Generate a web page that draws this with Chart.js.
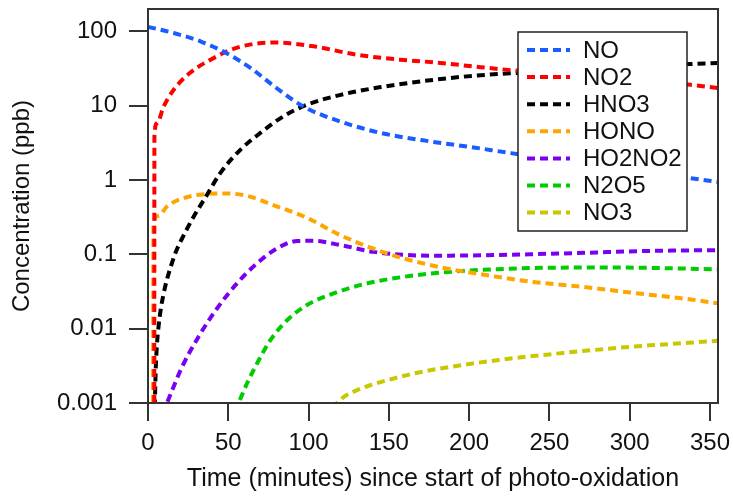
<!DOCTYPE html>
<html>
<head>
<meta charset="utf-8">
<script src="https://cdn.jsdelivr.net/npm/chart.js@4/dist/chart.umd.min.js"></script>
<style>
  html, body { margin: 0; padding: 0; background: #fff; }
  #wrap { width: 733px; height: 498px; position: relative; }
</style>
</head>
<body>
<div id="wrap"><canvas id="c" width="733" height="498"></canvas></div>
<script>
// ---- Data (time in minutes, concentration in ppb) ----
const seriesNames = ['NO', 'NO2', 'HNO3', 'HONO', 'HO2NO2', 'N2O5', 'NO3'];
const seriesColors = ['#1a5cff', '#ff0000', '#000000', '#ffa500', '#7a00f0', '#00cc00', '#c8c800'];

const noT = [0, 16, 33, 48, 64, 80, 97, 120, 145, 176, 200, 226, 250, 275, 300, 325, 338, 355];
const noV = [115, 95, 73, 52, 32, 17.3, 9.7, 6.1, 4.3, 3.3, 2.8, 2.3, 1.94, 1.63, 1.37, 1.15, 1.06, 0.94];

const no2T = [3.9, 4.0, 5.6, 9.7, 16, 26, 39, 55, 78, 103, 130, 157, 180, 203, 228, 250, 275, 300, 338, 355];
const no2V = [0.0003, 4.0, 5.8, 9.7, 16.4, 27.5, 41.6, 60, 71, 63, 48.5, 41.6, 38, 33.7, 29.8, 27.3, 24.7, 22.3, 19.1, 17.3];

const hno3T = [4.11, 4.3, 4.79, 5.54, 6.66, 7.85, 9.53, 11.71, 14.51, 17.81, 20.74, 28.4, 36.7, 45, 57.5, 70, 84.4, 99, 120, 145, 178, 203, 228, 260, 300, 338, 355];
const hno3V = [0.00058, 0.001, 0.00276, 0.0060, 0.01115, 0.01774, 0.02825, 0.0451, 0.0718, 0.1143, 0.156, 0.32, 0.63, 1.24, 2.55, 4.3, 7.2, 10.3, 14, 17.8, 22.3, 25.3, 27.5, 29.9, 33, 36.4, 37.5];

const honoT = [3.1, 3.4, 6.6, 11.8, 22, 37, 49, 62, 78, 99, 120, 140, 157, 182, 205, 238, 271, 304, 338, 355];
const honoV = [0.0003, 0.26, 0.33, 0.44, 0.57, 0.65, 0.66, 0.61, 0.46, 0.31, 0.18, 0.12, 0.091, 0.067, 0.055, 0.043, 0.0365, 0.030, 0.0247, 0.0219];

const ho2no2T = [9, 11.8, 21.2, 31.5, 43, 55.4, 67.9, 80.3, 92.8, 103, 120, 140.5, 161, 180, 207, 259, 311, 355];
const ho2no2V = [0.00072, 0.001, 0.00305, 0.0078, 0.0187, 0.0407, 0.0757, 0.12, 0.151, 0.152, 0.133, 0.108, 0.098, 0.096, 0.097, 0.103, 0.111, 0.114];

const n2o5T = [54, 56.4, 61.6, 67.9, 76.2, 86.6, 99, 115.6, 136.4, 157, 178, 203, 248.5, 290, 355];
const n2o5V = [0.00076, 0.001, 0.00182, 0.0034, 0.007, 0.013, 0.0208, 0.0298, 0.0407, 0.049, 0.0556, 0.061, 0.066, 0.0665, 0.063];

const no3T = [114.1, 117.7, 121.6, 126.0, 130.3, 138.4, 149.0, 165.4, 182.0, 217.3, 258.8, 300.3, 355];
const no3V = [0.000895, 0.001, 0.001194, 0.001352, 0.001493, 0.001733, 0.002024, 0.002489, 0.00291, 0.00376, 0.00472, 0.00569, 0.00686];

const xTickValues = [0, 50, 100, 150, 200, 250, 300, 350];
const yTickValues = [0.001, 0.01, 0.1, 1, 10, 100];
const yTickLabels = ['0.001', '0.01', '0.1', '1', '10', '100'];

const xTitle = 'Time (minutes) since start of photo-oxidation';
const yTitle = 'Concentration (ppb)';

// ---- Build datasets ----
const seriesT = [noT, no2T, hno3T, honoT, ho2no2T, n2o5T, no3T];
const seriesV = [noV, no2V, hno3V, honoV, ho2no2V, n2o5V, no3V];
const FONT = '"Liberation Sans", Arial, sans-serif';
const DASH = [8, 5];
const LW = 4;

const datasets = seriesNames.map((name, i) => ({
  label: name,
  data: seriesT[i].map((t, j) => ({ x: t, y: seriesV[i][j] })),
  borderColor: seriesColors[i],
  backgroundColor: seriesColors[i],
  borderWidth: LW,
  borderDash: DASH,
  pointRadius: 0,
  fill: false,
  cubicInterpolationMode: 'monotone',
  clip: 0
}));

// frame + legend drawn inside the plot area
const framePlugin = {
  id: 'frameLegend',
  afterDatasetsDraw(chart) {
    const { ctx, chartArea: a } = chart;
    ctx.save();
    ctx.strokeStyle = '#333';
    ctx.lineWidth = 2;
    ctx.setLineDash([]);
    ctx.strokeRect(a.left, a.top, a.right - a.left, a.bottom - a.top);

    // legend box
    const bw = 169, bh = 199;
    const bx = a.right - 31 - bw;
    const by = a.top + 23;
    ctx.fillStyle = '#fff';
    ctx.fillRect(bx, by, bw, bh);
    ctx.strokeStyle = '#222';
    ctx.lineWidth = 1.5;
    ctx.strokeRect(bx, by, bw, bh);
    ctx.font = '24px ' + FONT;
    ctx.textBaseline = 'middle';
    ctx.textAlign = 'left';
    chart.data.datasets.forEach((ds, i) => {
      const y = by + 18 + i * 27.1;
      ctx.beginPath();
      ctx.strokeStyle = ds.borderColor;
      ctx.lineWidth = LW;
      ctx.setLineDash(DASH);
      ctx.moveTo(bx + 9, y);
      ctx.lineTo(bx + 52, y);
      ctx.stroke();
      ctx.setLineDash([]);
      ctx.fillStyle = '#111';
      ctx.fillText(ds.label, bx + 65, y + 1);
    });
    ctx.restore();
  }
};

new Chart(document.getElementById('c'), {
  type: 'line',
  data: { datasets },
  options: {
    responsive: false,
    animation: false,
    layout: { padding: { top: 9, right: 15, left: 0, bottom: 0 } },
    plugins: { legend: { display: false }, tooltip: { enabled: false } },
    scales: {
      x: {
        type: 'linear',
        min: 0,
        max: 355,
        afterBuildTicks: s => { s.ticks = xTickValues.map(v => ({ value: v })); },
        afterFit: s => { s.height = 95; s.paddingLeft = 0; s.paddingRight = 0; },
        border: { display: false },
        grid: { drawOnChartArea: false, drawTicks: true, tickLength: 18, color: '#333', lineWidth: 2 },
        ticks: { color: '#111', font: { family: FONT, size: 24 }, padding: 8, maxRotation: 0 },
        title: { display: true, text: xTitle, color: '#111', font: { family: FONT, size: 25 }, padding: { top: 0, bottom: 4 } }
      },
      y: {
        type: 'logarithmic',
        min: 0.001,
        max: 200,
        afterBuildTicks: s => { s.ticks = yTickValues.map(v => ({ value: v })); },
        afterFit: s => { s.width = 148; s.paddingTop = 0; s.paddingBottom = 0; },
        border: { display: false },
        grid: { drawOnChartArea: false, drawTicks: true, tickLength: 19, color: '#333', lineWidth: 2 },
        ticks: {
          color: '#111', font: { family: FONT, size: 24 }, padding: 12,
          callback: (v) => { const k = yTickValues.indexOf(v); return k >= 0 ? yTickLabels[k] : ''; }
        },
        title: { display: true, text: yTitle, color: '#111', font: { family: FONT, size: 24 }, padding: { top: 8, bottom: 0 } }
      }
    }
  },
  plugins: [framePlugin]
});
</script>
</body>
</html>
